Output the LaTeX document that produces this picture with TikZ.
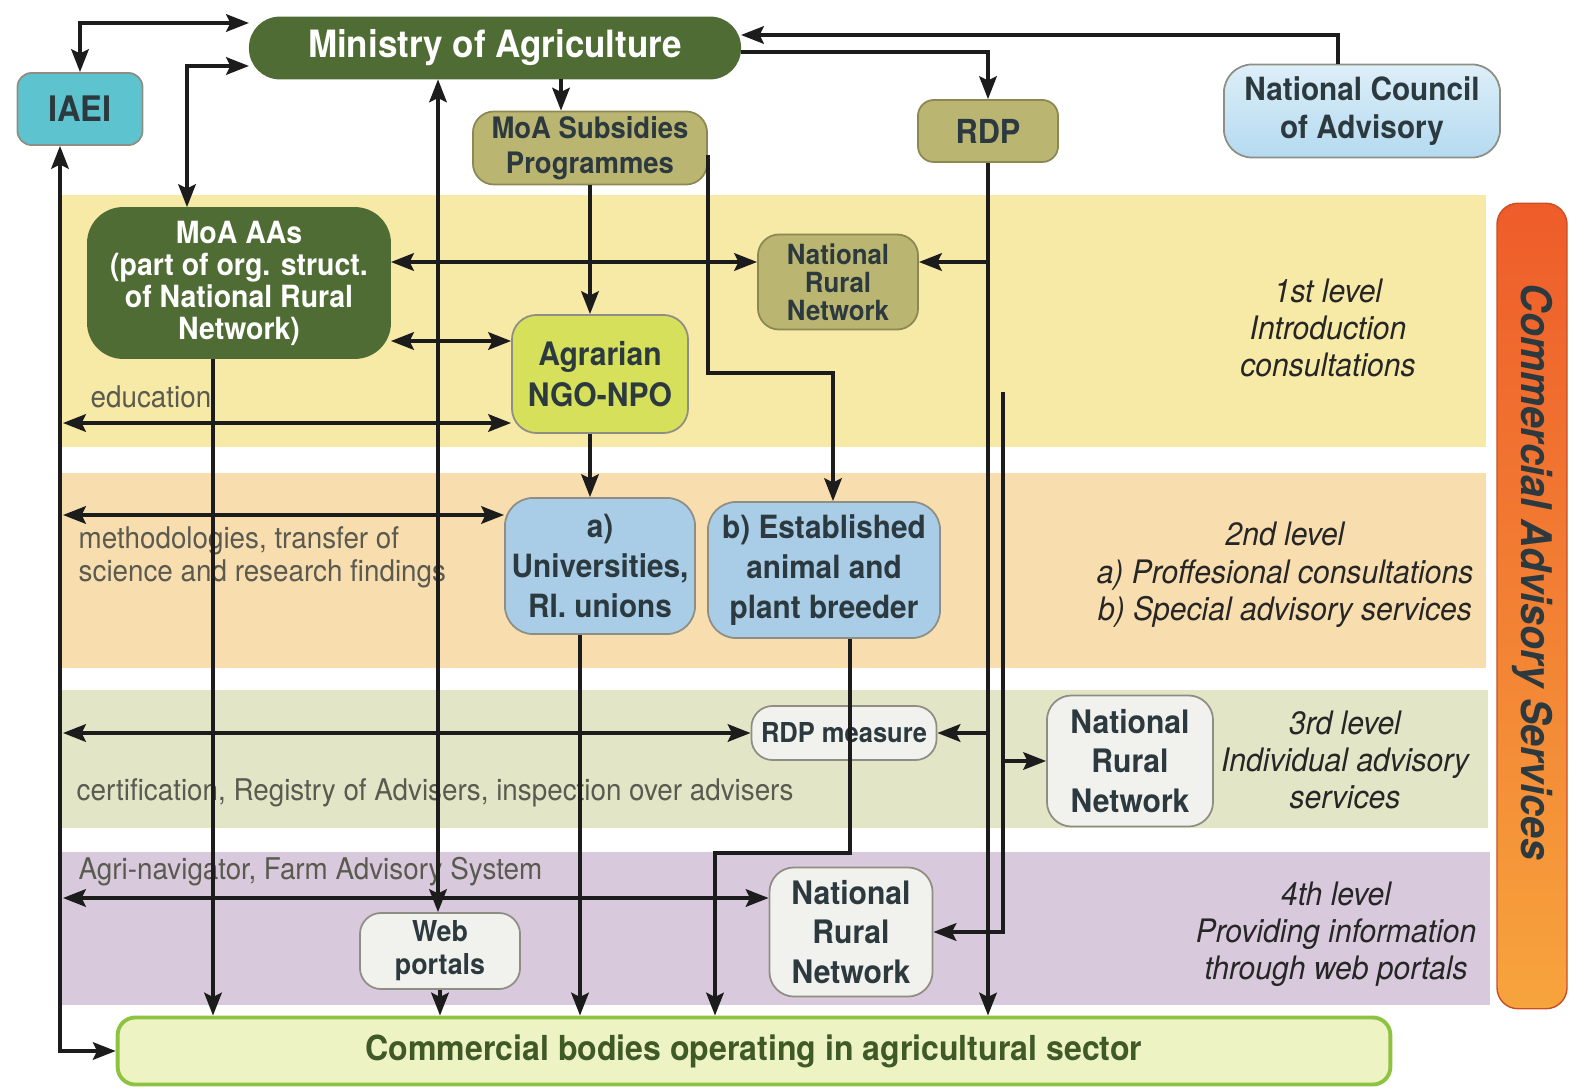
\documentclass[tikz,border=0pt]{standalone}
\usepackage{fontspec}
\setmainfont[FakeStretch=0.93]{TeX Gyre Heros}
\usetikzlibrary{arrows.meta,calc,positioning}

\definecolor{moagreen}{HTML}{4E6C33}
\definecolor{iaeiteal}{HTML}{5DC4CF}
\definecolor{olivefill}{HTML}{BAB570}
\definecolor{councilblue}{HTML}{B4DAF0}
\definecolor{ngoyellow}{HTML}{D6E05B}
\definecolor{unifill}{HTML}{A9CDE7}
\definecolor{greyfill}{HTML}{F1F1EE}
\definecolor{comfill}{HTML}{EEF3C4}
\definecolor{comline}{HTML}{8DC340}
\definecolor{comtext}{HTML}{3F5A27}
\definecolor{boxtext}{HTML}{2C3A3F}
\definecolor{boxline}{HTML}{8E8E84}
\definecolor{sidetext}{HTML}{5A5A50}
\definecolor{bandyellow}{HTML}{F7E9A6}
\definecolor{bandpeach}{HTML}{F8DEAF}
\definecolor{bandsage}{HTML}{E2E6C6}
\definecolor{bandlilac}{HTML}{D9C9DC}
\definecolor{barred}{HTML}{EE5C2A}
\definecolor{barorange}{HTML}{F7A43D}
\definecolor{linkcol}{HTML}{1C1C1C}

\newcommand{\fsz}[2]{\fontsize{#1}{#2}\selectfont}
\newcommand{\bx}[2]{\bfseries\fontsize{#1}{#2}\selectfont}

\tikzset{
  orgbox/.style    = {shape=rectangle, rounded corners=6pt, draw=boxline,
                      line width=0.5pt, align=center, inner sep=0pt,
                      text=boxtext},
  moabox/.style    = {orgbox, fill=moagreen, draw=moagreen, text=white},
  olivebox/.style  = {orgbox, fill=olivefill, draw=olivefill!75!black},
  unibox/.style    = {orgbox, fill=unifill},
  greybox/.style   = {orgbox, fill=greyfill},
  levelnote/.style = {align=center, inner sep=0pt, text=black!85,
                      font=\itshape\fsz{9.2}{10.6}},
  sidenote/.style  = {anchor=west, align=left, inner sep=0pt,
                      text=sidetext, font=\fsz{8.5}{9.4}},
  conn/.style      = {draw=linkcol, line width=1pt}
}

\begin{document}
\begin{tikzpicture}[x=0.01cm, y=-0.01cm, >={Stealth[length=6.5pt,width=5pt,inset=1.2pt]}]
\useasboundingbox (0,0) rectangle (1573,1088);

% level bands
\fill[bandyellow] (58,195) rectangle (1486,447);
\fill[bandpeach]  (58,473) rectangle (1486,668);
\fill[bandsage]   (58,690) rectangle (1488,828);
\fill[bandlilac]  (58,852) rectangle (1490,1005);

% side bar
\node[shape=rectangle, rounded corners=6pt, draw=barred!85!black, line width=0.4pt,
      top color=barred, bottom color=barorange, inner sep=0pt,
      minimum width=0.7cm, minimum height=8.05cm] (bar) at (1532,606) {};
\node[rotate=-90, text=boxtext, font=\bfseries\itshape\fsz{12}{13}]
  (bartxt) at (1532,572) {Commercial Advisory Services};

% boxes
\node[moabox, rounded corners=8.5pt, minimum width=4.9cm, minimum height=0.61cm,
      font=\bx{10.7}{12}] (min) at (495,48) {Ministry of Agriculture};
\node[orgbox, fill=iaeiteal, rounded corners=4pt, minimum width=1.25cm,
      minimum height=0.72cm, font=\bx{10}{11}] (iaei) at (80,109) {IAEI};
\node[olivebox, minimum width=2.34cm, minimum height=0.73cm,
      font=\bx{8.4}{10}] (sub) at (590,148) {MoA Subsidies\\Programmes};
\node[olivebox, rounded corners=4.5pt, minimum width=1.4cm, minimum height=0.62cm,
      font=\bx{9.4}{10}] (rdp) at (988,131) {RDP};
\node[orgbox, top color=councilblue!45!white, bottom color=councilblue,
      rounded corners=8pt, minimum width=2.76cm, minimum height=0.93cm,
      font=\bx{9.1}{10.8}] (nca) at (1362,111) {National Council\\of Advisory};

\node[moabox, rounded corners=10pt, minimum width=3.02cm, minimum height=1.5cm,
      font=\bx{8.7}{9.1}] (aas) at (239,283)
      {MoA AAs\\(part of org. struct.\\of National Rural\\Network)};
\node[olivebox, minimum width=1.6cm, minimum height=0.95cm,
      font=\bx{7.9}{8}] (nrn1) at (838,282) {National\\Rural\\Network};
\node[orgbox, fill=ngoyellow, rounded corners=7pt, minimum width=1.76cm,
      minimum height=1.18cm, font=\bx{9.2}{11.7}] (ngo) at (600,374) {Agrarian\\NGO-NPO};

\node[unibox, rounded corners=8pt, minimum width=1.9cm, minimum height=1.36cm,
      font=\bx{9.1}{11.4}] (uni) at (600,566) {a)\\Universities,\\RI. unions};
\node[unibox, rounded corners=8pt, minimum width=2.32cm, minimum height=1.36cm,
      font=\bx{9.1}{11.4}] (brd) at (824,570) {b) Established\\animal and\\plant breeder};

\node[greybox, minimum width=1.85cm, minimum height=0.54cm,
      font=\bx{7.8}{9}] (meas) at (844,733) {RDP measure};
\node[greybox, rounded corners=7pt, minimum width=1.66cm, minimum height=1.31cm,
      font=\bx{9.2}{11.2}] (nrn3) at (1130,761) {National\\Rural\\Network};

\node[greybox, minimum width=1.6cm, minimum height=0.76cm,
      font=\bx{8.2}{9.4}] (web) at (440,951) {Web\\portals};
\node[greybox, rounded corners=7pt, minimum width=1.63cm, minimum height=1.29cm,
      font=\bx{9.2}{11.3}] (nrn4) at (851,932) {National\\Rural\\Network};

\node[orgbox, fill=comfill, draw=comline, line width=1.1pt, rounded corners=5pt,
      minimum width=12.72cm, minimum height=0.67cm, text=comtext,
      font=\bx{9.8}{11}] (com) at (754,1051)
      {Commercial bodies operating in agricultural sector};

% level descriptions
\node[levelnote] (lv1) at (1328,328) {1st level\\Introduction\\consultations};
\node[levelnote] (lv2) at (1285,575) {2nd level\\a) Proffesional consultations\\b) Special advisory services};
\node[levelnote] (lv3) at (1345,760) {3rd level\\Individual advisory\\services};
\node[levelnote] (lv4) at (1336,934) {4th level\\Providing information\\through web portals};

% notes on the left
\node[sidenote] (edu)  at (90,397)  {education};
\node[sidenote] (meth) at (78,557)  {methodologies, transfer of\\science and research findings};
\node[sidenote] (cert) at (76,793)  {certification, Registry of Advisers, inspection over advisers};
\node[sidenote] (agri) at (78,872)  {Agri-navigator, Farm Advisory System};

% helper points for the connectors
\coordinate (colsub)  at (561,0);
\coordinate (colweb)  at (438,0);
\coordinate (colaas)  at (213,0);
\coordinate (coluni)  at (580,0);
\coordinate (coliaei) at (60,0);
\coordinate (rowaas)  at (0,262);
\coordinate (rowngo)  at (0,341);
\coordinate (tap)     at (1003,392);
\coordinate (subbend) at (833,373);
\coordinate (brdbend) at (850,853);
\coordinate (brdfoot) at (715,853);
\coordinate (eduend)  at (63,423);
\coordinate (methend) at (63,515);
\coordinate (certend) at (63,733);
\coordinate (agriend) at (63,898);

% top part
\draw[conn,<->] (iaei.north) |- ($(min.west)+(0,-25)$);
\draw[conn,<->] ($(aas.north)+(-52,0)$) |- ($(min.west)+(0,18)$);
\draw[conn,->] (min.south -| colsub) -- (sub.north -| colsub);
\draw[conn,->] ($(min.east)+(0,4)$) -| (rdp.north);
\draw[conn,->] ($(nca.north)+(-24,0)$) |- ($(min.east)+(0,-13)$);
\draw[conn,<->] (min.south -| colweb) -- (web.north -| colweb);
\draw[conn,->] (sub.south) -- (sub.south |- ngo.north);
\draw[conn,->] ($(sub.east)+(0,7)$) |- (subbend) -- (subbend |- brd.north);

% 1st level
\draw[conn,<->] (aas.east |- rowaas) -- (nrn1.west |- rowaas);
\draw[conn,<->] (aas.east |- rowngo) -- (ngo.west |- rowngo);
\draw[conn,<->] (eduend) -- (ngo.west |- eduend);
\draw[conn,->] ($(ngo.south)+(-10,0)$) -- ($(uni.north)+(-10,0)$);

% RDP branches
\draw[conn,->] (rdp.south) -- (rdp.south |- com.north);
\draw[conn,->] (rdp.south |- rowaas) -- (nrn1.east |- rowaas);
\draw[conn,->] (rdp.south |- meas.east) -- (meas.east);
\draw[conn,->] (tap) |- (nrn4.east);
\draw[conn,->] (tap |- nrn3.west) -- (nrn3.west);

% 2nd to 4th level
\draw[conn,<->] (methend) -- (uni.west |- methend);
\draw[conn,<->] (certend) -- (meas.west);
\draw[conn,<->] (agriend) -- (nrn4.west |- agriend);

% down to the commercial bodies
\draw[conn,->] (aas.south -| colaas) -- (com.north -| colaas);
\draw[conn,->] (web.south) -- (web.south |- com.north);
\draw[conn,->] (uni.south -| coluni) -- (com.north -| coluni);
\draw[conn,->] (brd.south -| brdbend) -- (brdbend) -- (brdfoot) -- (com.north -| brdfoot);
\draw[conn,<->] (iaei.south -| coliaei) |- (com.west);
\end{tikzpicture}
\end{document}
